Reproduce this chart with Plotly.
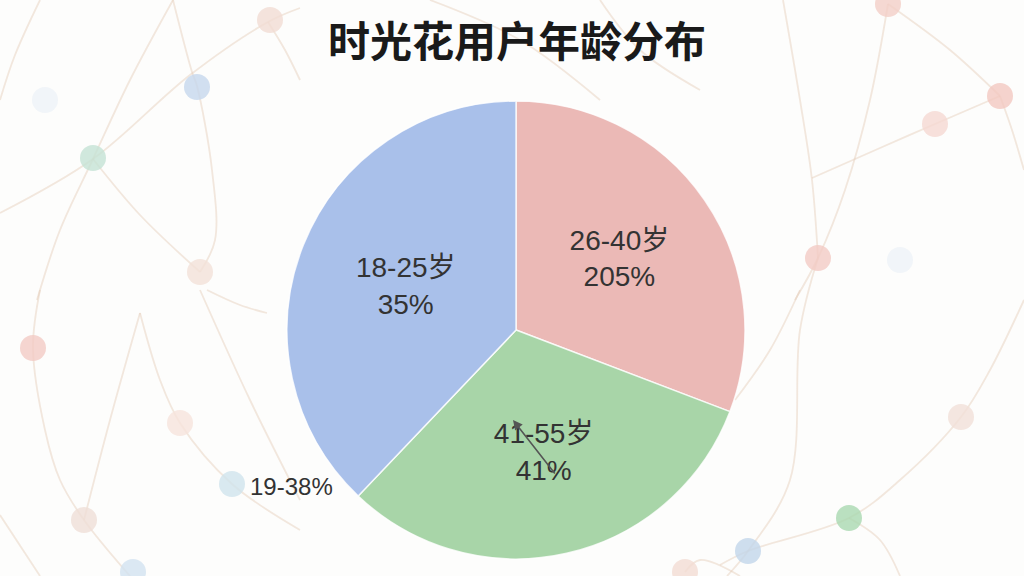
import plotly.graph_objects as go

# ---- chart data ----
title_text = "时光花用户年龄分布"
categories = ["26-40岁", "41-55岁", "18-25岁"]
shares = [30.8, 31.3, 37.9]
label_pcts = ["205%", "41%", "35%"]
slice_colors = ["#EBB9B6", "#A8D5A8", "#A9C0EA"]
outside_note = "19-38%"

W, H = 1024, 576

# ---- decorative background network (pixel coords) ----
bg_nodes = [
    (270, 20, "#F1DCD3"), (197, 87, "#C6D7EC"), (93, 158, "#C4E2D4"), (200, 272, "#F3E1D8"),
    (888, 4, "#F3CEC7"), (1000, 96, "#F2C8C0"), (935, 124, "#F5D8D2"), (818, 258, "#F2CBC4"),
    (33, 348, "#F2CAC4"), (180, 423, "#F6E3DC"), (232, 484, "#CFE4EC"), (84, 520, "#EFDFD7"),
    (961, 417, "#F1E0D8"), (849, 518, "#A9D8B0"), (748, 551, "#C2D6EA"), (685, 572, "#F3DCD3"),
    (133, 572, "#D2E2F0"), (45, 100, "#EEF3F8"), (900, 260, "#EEF2F8"),
]
bg_edges = [
    [(40, 0), (15, 55), (0, 100)],
    [(173, 0), (130, 80), (93, 159), (60, 230), (37, 300)],
    [(173, 0), (192, 72), (197, 86), (212, 170), (215, 240), (200, 272)],
    [(0, 213), (93, 159), (190, 75), (268, 22), (300, 8)],
    [(93, 159), (140, 215), (200, 272)],
    [(268, 22), (285, 50), (300, 80)],
    [(783, 0), (800, 100), (812, 180), (818, 258)],
    [(888, 4), (870, 100), (845, 190), (818, 258), (795, 300)],
    [(888, 4), (950, 50), (1000, 96)],
    [(812, 178), (880, 148), (935, 124), (1000, 96)],
    [(1000, 96), (1012, 130), (1024, 170)],
    [(40, 290), (33, 348), (45, 430), (60, 480), (84, 520), (130, 576)],
    [(140, 313), (160, 380), (180, 423), (232, 484), (300, 530)],
    [(200, 290), (250, 400), (300, 500)],
    [(0, 515), (40, 576)],
    [(140, 313), (110, 420), (84, 520)],
    [(818, 258), (800, 330), (790, 480), (748, 551), (727, 576)],
    [(800, 290), (770, 350), (735, 400)],
    [(1024, 300), (990, 370), (961, 417), (900, 480), (849, 518), (748, 551), (720, 565)],
    [(849, 518), (880, 540), (900, 576)],
    [(430, 0), (520, 40), (600, 100)],
    [(600, 0), (640, 50), (700, 90)],
    [(740, 576), (700, 560), (685, 572)],
    [(207, 290), (240, 305), (267, 313)],
]

fig = go.Figure()

for edge in bg_edges:
    fig.add_trace(go.Scatter(
        x=[p[0] for p in edge], y=[p[1] for p in edge], mode="lines",
        line=dict(color="rgba(226,200,178,0.42)", width=1.8, shape="spline"),
        hoverinfo="skip", showlegend=False, xaxis="x", yaxis="y"))

fig.add_trace(go.Scatter(
    x=[n[0] for n in bg_nodes], y=[n[1] for n in bg_nodes], mode="markers",
    marker=dict(size=26, color=[n[2] for n in bg_nodes], opacity=0.8, line=dict(width=0)),
    hoverinfo="skip", showlegend=False, xaxis="x", yaxis="y"))

cx, cy, r = 516, 330, 229
fig.add_trace(go.Pie(
    labels=categories,
    values=shares,
    text=[f"{c}<br>{p}" for c, p in zip(categories, label_pcts)],
    textinfo="text",
    textposition="inside",
    insidetextorientation="horizontal",
    textfont=dict(family="Liberation Sans, Arial, Noto Sans CJK SC", size=28, color="#333333"),
    marker=dict(colors=slice_colors, line=dict(color="rgba(255,255,255,0.8)", width=1.5)),
    sort=False,
    direction="clockwise",
    rotation=0,
    hole=0,
    showlegend=False,
    domain=dict(x=[(cx - r) / W, (cx + r) / W], y=[1 - (cy + r) / H, 1 - (cy - r) / H]),
))

fig.update_layout(
    width=W, height=H,
    margin=dict(l=0, r=0, t=0, b=0),
    paper_bgcolor="#FDFDFC",
    plot_bgcolor="rgba(0,0,0,0)",
    xaxis=dict(range=[0, W], visible=False, domain=[0, 1], fixedrange=True),
    yaxis=dict(range=[H, 0], visible=False, domain=[0, 1], fixedrange=True),
    title=dict(
        text=title_text,
        x=517 / W, xanchor="center",
        y=1 - 42 / H, yanchor="middle", yref="container",
        font=dict(family="Noto Sans CJK SC", size=42, color="#1a1a1a", weight="bold"),
    ),
    annotations=[
        dict(x=513, y=420, xref="x", yref="y", ax=43, ay=55, axref="pixel", ayref="pixel",
             text="", showarrow=True, arrowhead=2, arrowsize=1.2, arrowwidth=1.6,
             arrowcolor="#555555"),
        dict(x=291, y=486, xref="x", yref="y", text=outside_note, showarrow=False,
             font=dict(family="Liberation Sans, Arial", size=24, color="#333333")),
    ],
)

fig.write_html("out.html", config={"displayModeBar": False},
               post_script="document.body.style.margin='0';document.body.style.padding='0';")
